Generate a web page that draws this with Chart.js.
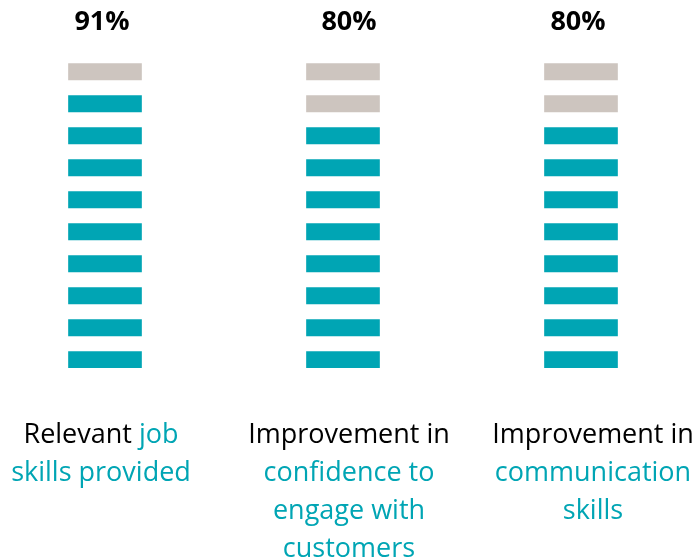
<!DOCTYPE html>
<html>
<head>
<meta charset="utf-8">
<script src="https://cdn.jsdelivr.net/npm/chart.js@4"></script>
<style>
  html, body { margin: 0; padding: 0; background: #fff; overflow: hidden; }
  #wrap { position: absolute; left: -14px; top: 0; width: 714px; height: 560px; }
</style>
</head>
<body>
<div id="wrap"><canvas id="chart" width="714" height="560"></canvas></div>
<script>
// categories, "\n" marks the line breaks used in the picture
const categories = [
  "Relevant job\nskills provided",
  "Improvement in\nconfidence to\nengage with\ncustomers",
  "Improvement in\ncommunication\nskills",
];
// how many leading words of each label are printed in black (rest in teal)
const plainWords = [1, 2, 2];
const percentages = [91, 80, 80];
const segmentCount = 10;

const TEAL = "#00A5B4";
const GREY = "#CDC5BF";
const FONT = "'Open Sans', 'Noto Sans', sans-serif";

// small text nudges so the labels sit where the picture has them
const pctNudge = [-3, 6, -3];
const labelNudge = [-4, 6, 12];

const datasets = [];
for (let k = 0; k < segmentCount; k++) {
  datasets.push({
    label: "segment " + (k + 1),
    data: percentages.map(() => [k, k + 0.515]),
    backgroundColor: percentages.map(p => (k < Math.floor(p / 10) ? TEAL : GREY)),
    borderWidth: 0,
    grouped: false,
    barThickness: 73,
  });
}

const textPlugin = {
  id: "texts",
  afterDraw(chart) {
    const ctx = chart.ctx;
    const xs = chart.scales.x;
    const ys = chart.scales.y;
    ctx.save();
    ctx.textBaseline = "alphabetic";
    // percentages above each column
    ctx.font = "bold 27px " + FONT;
    ctx.fillStyle = "#000";
    ctx.textAlign = "center";
    percentages.forEach((p, i) => {
      ctx.fillText(p + "%", xs.getPixelForValue(i) + pctNudge[i], ys.getPixelForValue(segmentCount) - 18);
    });
    // labels under each column, black lead words then teal
    ctx.font = "27px " + FONT;
    ctx.textAlign = "left";
    const spaceW = ctx.measureText(" ").width;
    categories.forEach((cat, i) => {
      const cx = xs.getPixelForValue(i) + labelNudge[i];
      let wordIdx = 0;
      cat.split("\n").forEach((line, li) => {
        const words = line.split(" ");
        const widths = words.map(w => ctx.measureText(w).width);
        const total = widths.reduce((a, b) => a + b, 0) + spaceW * (words.length - 1);
        let x = cx - total / 2;
        const y = ys.getPixelForValue(0) + 75 + li * 38;
        words.forEach((w, wi) => {
          ctx.fillStyle = wordIdx < plainWords[i] ? "#000" : TEAL;
          ctx.fillText(w, x, y);
          x += widths[wi] + spaceW;
          wordIdx++;
        });
      });
    });
    ctx.restore();
  },
};

new Chart(document.getElementById("chart"), {
  type: "bar",
  data: { labels: categories.map(c => c.replace(/\n/g, " ")), datasets },
  options: {
    responsive: false,
    animation: false,
    layout: { padding: { top: 48, bottom: 192, left: 0, right: 0 } },
    plugins: { legend: { display: false }, tooltip: { enabled: false } },
    scales: {
      x: { display: false, offset: true },
      y: { display: false, min: 0, max: segmentCount },
    },
  },
  plugins: [textPlugin],
});
</script>
</body>
</html>
